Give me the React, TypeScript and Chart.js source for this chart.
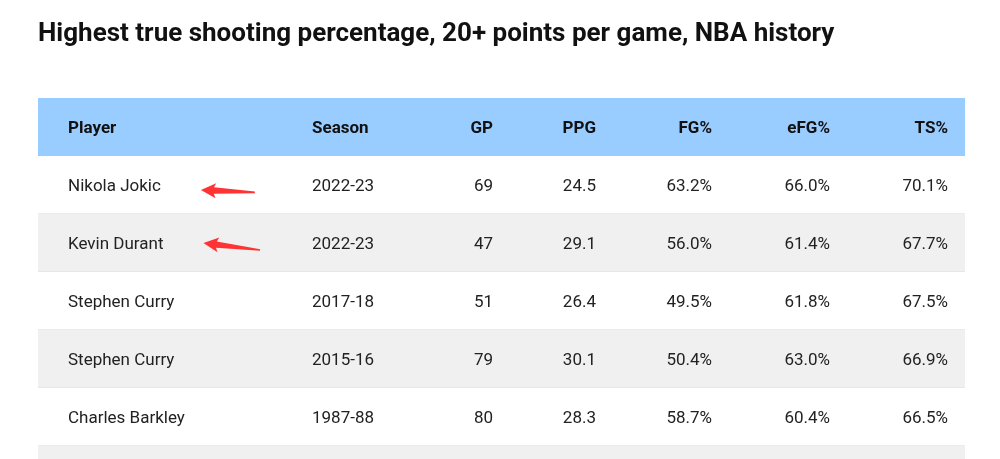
import { useEffect, useRef } from 'react';
import { Chart, registerables } from 'chart.js';

Chart.register(...registerables);

// ---- data ----
const titleText = 'Highest true shooting percentage, 20+ points per game, NBA history';
const columns = ['Player', 'Season', 'GP', 'PPG', 'FG%', 'eFG%', 'TS%'];
const players = ['Nikola Jokic', 'Kevin Durant', 'Stephen Curry', 'Stephen Curry', 'Charles Barkley'];
const seasons = ['2022-23', '2022-23', '2017-18', '2015-16', '1987-88'];
const gamesPlayed = [69, 47, 51, 79, 80];
const pointsPerGame = [24.5, 29.1, 26.4, 30.1, 28.3];
const fgPct = [63.2, 56.0, 49.5, 50.4, 58.7];
const efgPct = [66.0, 61.4, 61.8, 63.0, 60.4];
const tsPct = [70.1, 67.7, 67.5, 66.9, 66.5];
const markedRows = [0, 1]; // rows with red arrows

// ---- layout / style ----
const colOffsets = [30, 274, 455, 558, 674, 792, 910];
const colAligns: CanvasTextAlign[] = ['left', 'left', 'right', 'right', 'right', 'right', 'right'];
const arrowStyle = [
  { gap: 40, dy: 5, len: 54, angle: 2.5 },
  { gap: 40, dy: 0, len: 57, angle: 7 },
];

const pct = (v: number) => v.toFixed(1) + '%';
const rows = players.map((p, i) => [
  p,
  seasons[i],
  String(gamesPlayed[i]),
  pointsPerGame[i].toFixed(1),
  pct(fgPct[i]),
  pct(efgPct[i]),
  pct(tsPct[i]),
]);

// header + rows + one partially visible row
const rowLabels = ['header', ...rows.map((_, i) => 'row' + i), 'more'];
const rowColors = rowLabels.map((_, i) => (i === 0 ? '#99ccff' : i % 2 === 1 ? '#ffffff' : '#f0f0f0'));

function drawArrow(ctx: CanvasRenderingContext2D, x: number, y: number, len: number, angleDeg: number) {
  ctx.save();
  ctx.translate(x, y);
  ctx.rotate((angleDeg * Math.PI) / 180);
  ctx.beginPath();
  ctx.moveTo(0, 0);
  ctx.lineTo(15, -7.5);
  ctx.lineTo(13, -3.2);
  ctx.lineTo(len, -0.8);
  ctx.lineTo(len, 0.8);
  ctx.lineTo(13, 3.2);
  ctx.lineTo(15, 7.5);
  ctx.closePath();
  ctx.fillStyle = '#ff3333';
  ctx.fill();
  ctx.restore();
}

const tablePlugin = {
  id: 'tableText',
  afterDatasetsDraw(chart: any) {
    const { ctx, chartArea, scales } = chart;
    const y = scales.y;
    const left = chartArea.left;
    ctx.save();
    ctx.textBaseline = 'middle';
    ctx.font = 'bold 17px Roboto';
    ctx.fillStyle = '#111111';
    const hy = y.getPixelForValue(0) + 2;
    columns.forEach((c, j) => {
      ctx.textAlign = colAligns[j];
      ctx.fillText(c, left + colOffsets[j], hy);
    });
    ctx.font = '17px Roboto';
    rows.forEach((r, i) => {
      const cy = y.getPixelForValue(i + 1) + 2;
      ctx.fillStyle = '#222222';
      r.forEach((cell, j) => {
        ctx.textAlign = colAligns[j];
        ctx.fillText(cell, left + colOffsets[j], cy);
      });
      const k = markedRows.indexOf(i);
      if (k >= 0) {
        const st = arrowStyle[k];
        const w = ctx.measureText(r[0]).width;
        drawArrow(ctx, left + colOffsets[0] + w + st.gap, cy - 2 + st.dy, st.len, st.angle);
      }
    });
    ctx.restore();
  },
};

export default function App() {
  const ref = useRef<HTMLCanvasElement>(null);
  useEffect(() => {
    const canvas = ref.current!;
    const chart = new Chart(canvas, {
      type: 'bar',
      data: {
        labels: rowLabels,
        datasets: [
          {
            data: rowLabels.map(() => [0, 1] as any),
            backgroundColor: rowColors,
            borderColor: rowLabels.map((_, i) => (i === 0 ? '#99ccff' : '#e4e4e4')),
            borderWidth: { top: 0, right: 0, bottom: 1, left: 0 } as any,
            borderSkipped: false,
            barPercentage: 1,
            categoryPercentage: 1,
          },
        ],
      },
      options: {
        indexAxis: 'y',
        responsive: false,
        animation: false,
        events: [],
        layout: { padding: { left: 38, right: 35, top: 0, bottom: 0 } },
        scales: {
          x: { type: 'linear', min: 0, max: 1, display: false },
          y: { type: 'category', display: false, offset: true },
        },
        plugins: {
          legend: { display: false },
          tooltip: { enabled: false },
          title: {
            display: true,
            text: titleText,
            align: 'start',
            color: '#111111',
            font: { family: 'Roboto', size: 26, weight: 'bold', lineHeight: 1 },
            padding: { top: 21, bottom: 51 },
          },
        },
      },
      plugins: [tablePlugin],
    });
    if ((document as any).fonts) {
      Promise.all([
        document.fonts.load('17px Roboto'),
        document.fonts.load('bold 17px Roboto'),
        document.fonts.load('bold 26px Roboto'),
      ]).then(() => chart.update());
    }
    return () => chart.destroy();
  }, []);
  return (
    <div style={{ position: 'fixed', left: 0, top: 0, width: 1000, height: 459, overflow: 'hidden', background: '#ffffff' }}>
      <canvas ref={ref} width={1000} height={504} style={{ display: 'block' }} />
    </div>
  );
}
